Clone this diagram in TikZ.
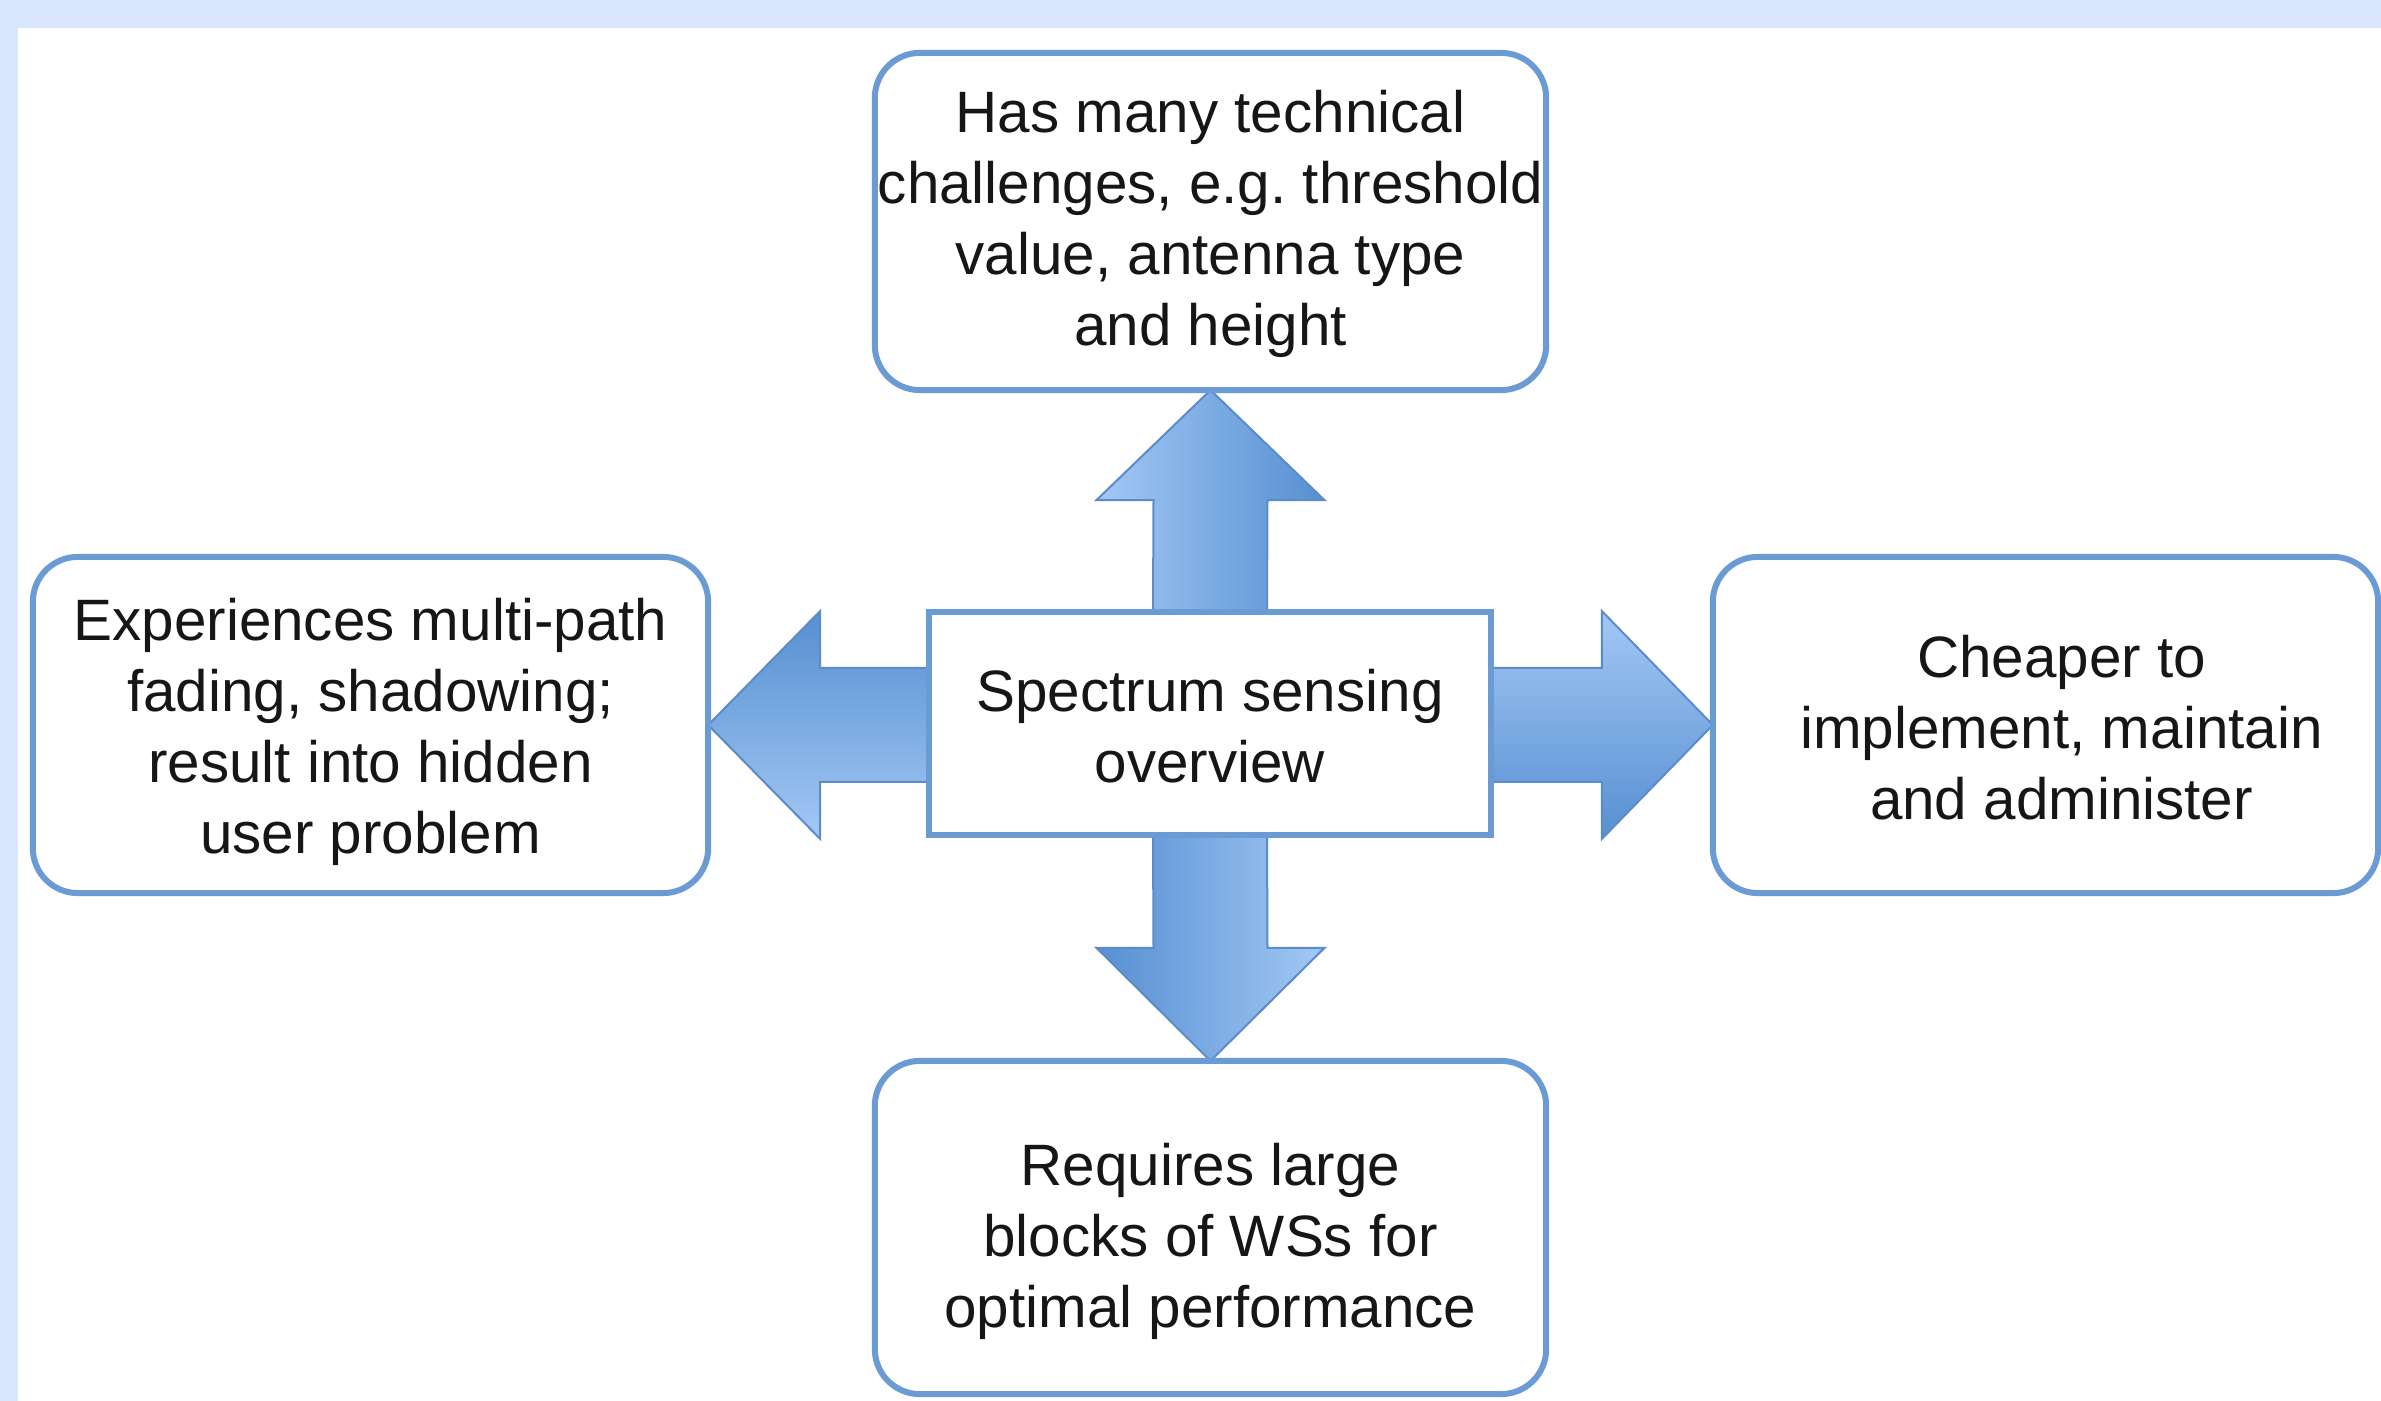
\documentclass[tikz,border=0pt]{standalone}
\usepackage{fontspec}
\setmainfont{Liberation Sans}
\usetikzlibrary{calc,backgrounds}

\definecolor{pagebg}{RGB}{217,230,253}
\definecolor{boxline}{RGB}{106,155,212}
\definecolor{arrowlight}{RGB}{163,200,245}
\definecolor{arrowdark}{RGB}{86,143,209}
\definecolor{arrowedge}{RGB}{92,140,200}
\definecolor{inktext}{RGB}{22,22,22}

% centred lines of box text, lowered by #1 and padded on the left by #2,
% without changing the space the text takes up
\newcommand\stacklines[3]{\raisebox{-#1}[\height][\depth]{%
  \begin{tabular}{@{\hspace{#2}}c@{}}#3\end{tabular}}}

\begin{document}
\frenchspacing
\begin{tikzpicture}[x=0.01cm,y=-0.01cm,
  boxtext/.style={font=\fontsize{16.6pt}{20.2pt}\selectfont, text=inktext, align=center},
  idea/.style={boxtext, draw=boxline, line width=0.06cm, rounded corners=0.45cm,
               fill=white, inner sep=0pt, outer sep=0pt},
  hub/.style={boxtext, draw=boxline, line width=0.06cm, fill=white,
              inner sep=0pt, outer sep=0pt},
  blockarrow/.style={draw=arrowedge, line width=0.02cm, line join=miter}]

\useasboundingbox (0,0) rectangle (2381,1401);

% central topic and the four outcome boxes
\node[hub, minimum width=5.62cm, minimum height=2.23cm] (hub) at (1210,723.5)
  {\stacklines{0.09cm}{0pt}{Spectrum sensing\\overview}};
\node[idea, minimum width=6.71cm, minimum height=3.37cm] (top) at (1210.5,221.5)
  {\stacklines{0.03cm}{0pt}{Has many technical\\challenges, e.g. threshold\\value, antenna type\\and height}};
\node[idea, minimum width=6.75cm, minimum height=3.36cm] (left) at (370.5,725)
  {\stacklines{0.075cm}{0pt}{Experiences multi-path\\fading, shadowing;\\result into hidden\\user problem}};
\node[idea, minimum width=6.65cm, minimum height=3.36cm] (right) at (2045.5,725)
  {\stacklines{0.09cm}{0.32cm}{Cheaper to\\implement, maintain\\and administer}};
\node[idea, minimum width=6.71cm, minimum height=3.33cm] (bottom) at (1210.5,1227.5)
  {\stacklines{0.15cm}{0pt}{Requires large\\blocks of WSs for\\optimal performance}};

\begin{scope}[on background layer]
  % page frame
  \fill[pagebg] (0,0) rectangle (2381,1401);
  \fill[white] (18,28) rectangle (2381,1401);

  % block arrows from the centre outwards
  \draw[blockarrow, left color=arrowlight, right color=arrowdark]
    ($(hub.north)+(-57,0)$) -- ($(top.south)+(-57,110)$) -- ($(top.south)+(-114,110)$)
    -- (top.south) -- ($(top.south)+(114,110)$) -- ($(top.south)+(57,110)$)
    -- ($(hub.north)+(57,0)$) -- cycle;
  \draw[blockarrow, left color=arrowdark, right color=arrowlight]
    ($(hub.south)+(-57,0)$) -- ($(bottom.north)+(-57,-113)$) -- ($(bottom.north)+(-114,-113)$)
    -- (bottom.north) -- ($(bottom.north)+(114,-113)$) -- ($(bottom.north)+(57,-113)$)
    -- ($(hub.south)+(57,0)$) -- cycle;
  \draw[blockarrow, top color=arrowdark, bottom color=arrowlight]
    ($(hub.west|-left.east)+(0,-57)$) -- ($(left.east)+(112,-57)$) -- ($(left.east)+(112,-114)$)
    -- (left.east) -- ($(left.east)+(112,114)$) -- ($(left.east)+(112,57)$)
    -- ($(hub.west|-left.east)+(0,57)$) -- cycle;
  \draw[blockarrow, top color=arrowlight, bottom color=arrowdark]
    ($(hub.east|-right.west)+(0,-57)$) -- ($(right.west)+(-111,-57)$) -- ($(right.west)+(-111,-114)$)
    -- (right.west) -- ($(right.west)+(-111,114)$) -- ($(right.west)+(-111,57)$)
    -- ($(hub.east|-right.west)+(0,57)$) -- cycle;
\end{scope}
\end{tikzpicture}
\end{document}
